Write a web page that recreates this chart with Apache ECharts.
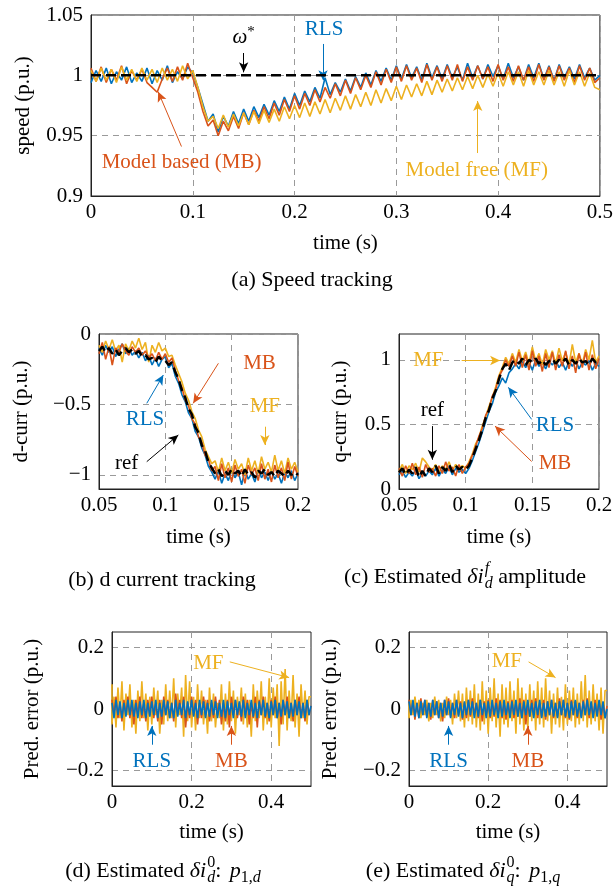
<!DOCTYPE html>
<html><head><meta charset="utf-8">
<script src="https://cdn.jsdelivr.net/npm/echarts@6/dist/echarts.min.js"></script>
<style>html,body{margin:0;padding:0;background:#fff}#c{width:616px;height:888px}</style>
</head><body><div id="c"></div><script>
// ---------- DATA ----------
// (a) speed tracking, t = 0 .. 0.5 step 0.005
const A_T0 = 0, A_DT = 0.005;
const A_REF = [[0, 1], [0.5, 1]];
const A_RLS = [
0.994,1.004,0.995,1.006,0.993,1.003,0.996,1.007,0.994,1.002,
0.995,1.006,0.993,1.004,0.996,1.008,0.994,1.003,0.997,1.007,
1.002,0.990,0.976,0.962,0.968,0.953,0.966,0.958,0.970,0.960,
0.972,0.962,0.974,0.965,0.976,0.967,0.979,0.970,0.982,0.972,
0.985,0.975,0.987,0.978,0.990,0.981,0.998,0.984,0.994,0.986,
0.997,0.987,0.999,0.990,1.002,0.992,1.004,0.995,1.006,0.996,
1.008,0.997,1.009,0.998,1.007,0.996,1.010,0.998,1.008,0.997,
1.009,0.998,1.007,0.996,1.010,0.998,1.008,0.997,1.009,0.999,
1.008,0.997,1.010,0.998,1.007,0.996,1.009,0.998,1.010,0.997,
1.008,0.996,1.009,0.998,1.007,0.997,1.009,0.998,1.006,0.996,
1.000];
const A_MB = [
1.006,0.995,1.007,0.994,1.005,0.996,1.008,0.993,1.004,0.996,
1.005,0.994,0.990,0.986,0.997,1.006,0.995,1.007,0.996,1.010,
0.998,0.986,0.970,0.958,0.963,0.950,0.962,0.954,0.966,0.956,
0.969,0.959,0.971,0.962,0.974,0.964,0.977,0.967,0.980,0.970,
0.983,0.972,0.985,0.975,0.988,0.978,0.990,0.981,0.993,0.983,
0.996,0.985,0.998,0.988,1.000,0.990,1.003,0.992,1.005,0.994,
1.007,0.995,1.008,0.996,1.006,0.994,1.009,0.996,1.007,0.995,
1.008,0.996,1.009,0.995,1.007,0.996,1.008,0.997,1.007,0.995,
1.009,0.996,1.007,0.995,1.008,0.996,1.007,0.995,1.009,0.996,
1.007,0.995,1.008,0.996,1.006,0.994,1.008,0.996,1.006,0.994,
0.998];
const A_MF = [
1.004,0.995,1.006,0.996,1.005,0.994,1.007,0.996,1.005,0.995,
1.006,0.996,1.005,0.994,1.006,0.996,1.005,0.995,1.008,0.997,
1.004,0.990,0.974,0.962,0.966,0.956,0.967,0.957,0.968,0.958,
0.969,0.959,0.970,0.960,0.971,0.961,0.972,0.962,0.974,0.964,
0.975,0.965,0.977,0.966,0.978,0.968,0.980,0.969,0.981,0.971,
0.983,0.972,0.984,0.974,0.986,0.975,0.988,0.977,0.989,0.979,
0.991,0.980,0.992,0.982,0.993,0.983,0.995,0.984,0.996,0.986,
0.997,0.987,0.998,0.988,0.999,0.989,1.000,0.990,1.001,0.991,
1.002,0.991,1.003,0.992,1.003,0.991,1.004,0.992,1.003,0.992,
1.004,0.992,1.003,0.991,1.004,0.992,1.003,0.991,1.002,0.990,
0.988];

// (b) d current & (c) q current, t = 0.05 .. 0.2 step 0.0025
const BC_T0 = 0.05, BC_DT = 0.0025;
const B_REF = [
-0.12,-0.09,-0.13,-0.10,-0.14,-0.11,-0.15,-0.12,-0.10,-0.13,-0.11,-0.14,-0.12,-0.16,-0.15,-0.18,-0.17,-0.20,-0.16,-0.19,
-0.19,-0.22,-0.20,-0.27,-0.32,-0.40,-0.45,-0.53,-0.57,-0.66,-0.70,-0.79,-0.83,-0.91,-0.95,
-0.99,-0.96,-1.01,-0.97,-1.00,-0.96,-0.99,-0.97,-1.01,-0.96,-1.00,-0.98,-1.02,-0.97,-0.99,-0.96,-1.00,-0.98,-1.01,-0.97,-0.99,-1.01,-0.97,-1.00,-0.98,-1.00];
const B_RLS = [
-0.10,-0.15,-0.08,-0.13,-0.09,-0.16,-0.11,-0.07,-0.14,-0.10,-0.15,-0.12,-0.17,-0.13,-0.19,-0.15,-0.22,-0.17,-0.23,-0.18,
-0.16,-0.24,-0.21,-0.30,-0.35,-0.43,-0.48,-0.56,-0.60,-0.69,-0.73,-0.81,-0.86,-0.94,-0.98,
-1.03,-0.97,-1.06,-0.99,-1.04,-0.97,-1.02,-0.98,-1.07,-0.97,-1.03,-0.99,-1.05,-0.96,-1.02,-0.98,-1.04,-0.97,-1.03,-0.99,-1.06,-0.98,-1.02,-0.97,-1.04,-0.99];
const B_MB = [
-0.14,-0.06,-0.18,-0.09,-0.22,-0.10,-0.13,-0.07,-0.12,-0.15,-0.09,-0.13,-0.10,-0.15,-0.12,-0.17,-0.14,-0.19,-0.13,-0.18,
-0.14,-0.20,-0.17,-0.26,-0.33,-0.38,-0.47,-0.51,-0.60,-0.64,-0.73,-0.77,-0.86,-0.89,-0.97,
-0.94,-1.04,-0.92,-1.02,-0.95,-1.05,-0.93,-1.01,-0.96,-1.06,-0.93,-1.00,-0.95,-1.04,-0.92,-1.03,-0.96,-1.05,-0.93,-1.02,-0.95,-1.04,-0.91,-1.03,-0.94,-1.01];
const B_MF = [
-0.08,-0.13,-0.05,-0.11,-0.04,-0.12,-0.08,-0.20,-0.07,-0.12,-0.05,-0.10,-0.03,-0.11,-0.06,-0.20,-0.08,-0.13,-0.06,-0.12,
-0.10,-0.16,-0.15,-0.22,-0.28,-0.34,-0.42,-0.47,-0.55,-0.60,-0.68,-0.73,-0.82,-0.87,-0.92,
-0.90,-0.98,-0.88,-0.97,-0.91,-0.99,-0.89,-0.96,-0.92,-1.00,-0.88,-0.97,-0.90,-0.99,-0.87,-0.96,-0.91,-0.98,-0.86,-0.97,-0.90,-0.99,-0.88,-0.96,-0.91,-0.98];

const C_REF = [
0.13,0.16,0.11,0.15,0.12,0.17,0.09,0.14,0.10,0.16,0.13,0.18,0.12,0.17,0.14,0.19,0.13,0.18,0.15,0.17,
0.15,0.18,0.24,0.31,0.38,0.46,0.55,0.61,0.70,0.76,0.85,0.93,0.97,0.92,0.98,
1.00,0.97,1.01,0.96,1.00,0.98,1.01,0.97,1.00,0.96,0.99,1.01,0.97,1.00,0.98,1.01,0.96,1.00,0.97,1.01,0.98,0.99,0.96,1.01,0.98,1.00];
const C_RLS = [
0.11,0.14,0.09,0.13,0.10,0.15,0.08,0.12,0.10,0.14,0.11,0.16,0.10,0.15,0.12,0.17,0.11,0.16,0.13,0.15,
0.12,0.16,0.22,0.29,0.36,0.44,0.52,0.60,0.66,0.75,0.80,0.86,0.82,0.90,0.93,
0.97,0.93,0.99,0.94,0.98,0.92,1.00,0.95,0.98,0.93,0.99,0.96,1.00,0.94,0.98,0.92,0.99,0.95,1.00,0.93,0.98,0.96,0.99,0.92,0.97,0.95];
const C_MB = [
0.16,0.10,0.18,0.12,0.20,0.11,0.17,0.09,0.19,0.13,0.16,0.10,0.18,0.12,0.21,0.14,0.17,0.10,0.19,0.12,
0.17,0.20,0.26,0.33,0.41,0.47,0.57,0.62,0.72,0.77,0.87,0.92,1.00,0.95,1.03,
0.95,1.06,0.94,1.04,0.92,1.07,0.95,1.03,0.91,1.05,0.94,1.06,0.92,1.04,0.95,1.07,0.93,1.03,0.90,1.05,0.94,1.06,0.92,1.04,0.93,1.01];
const C_MF = [
0.14,0.19,0.12,0.18,0.15,0.20,0.13,0.24,0.21,0.17,0.14,0.19,0.13,0.18,0.15,0.21,0.14,0.19,0.16,0.18,
0.16,0.21,0.27,0.35,0.40,0.49,0.56,0.64,0.71,0.79,0.88,0.94,1.02,0.97,1.05,
0.98,1.08,0.99,1.06,0.97,1.10,0.99,1.05,0.96,1.08,1.00,1.07,0.97,1.09,0.99,1.06,0.96,1.12,0.98,1.05,0.97,1.08,1.00,1.15,0.98,1.03];

// (d),(e) prediction error, t = 0 .. 0.5 step 0.005
const DE_T0 = 0, DE_DT = 0.005;
const D_MF = [
0.08,-0.05,0.04,-0.06,0.07,-0.03,0.09,-0.07,0.05,-0.02,
0.08,-0.06,0.03,-0.08,0.06,-0.04,0.09,-0.03,0.05,-0.07,
0.04,-0.05,0.07,-0.02,0.06,-0.08,0.03,-0.05,0.08,-0.04,
0.06,-0.03,0.10,-0.06,0.05,-0.02,0.07,-0.09,0.11,-0.04,
0.09,-0.06,0.04,-0.07,0.08,-0.03,0.06,-0.05,0.03,-0.08,
0.07,-0.04,0.05,-0.06,0.02,-0.03,0.08,-0.07,0.05,-0.05,
0.09,-0.04,0.06,-0.08,0.04,-0.02,0.07,-0.05,0.05,-0.06,
0.03,-0.09,0.08,-0.04,0.06,-0.03,0.09,-0.07,0.04,-0.05,
0.10,-0.06,0.07,-0.03,0.08,-0.12,0.09,-0.05,0.13,-0.07,
0.06,-0.04,0.11,-0.06,0.05,-0.09,0.08,-0.03,0.06,-0.05,
0.04];
const D_MB = [
0.03,-0.02,0.04,-0.03,0.02,-0.04,0.03,-0.02,0.04,-0.03,
0.02,-0.05,0.03,-0.02,0.04,-0.03,0.02,-0.04,0.03,-0.02,
0.04,-0.03,0.02,-0.04,0.03,-0.05,0.04,-0.02,0.03,-0.03,
0.02,-0.04,0.05,-0.02,0.03,-0.03,0.04,-0.06,0.02,-0.03,
0.04,-0.02,0.03,-0.05,0.02,-0.03,0.04,-0.02,0.03,-0.04,
0.02,-0.03,0.04,-0.02,0.03,-0.05,0.02,-0.04,0.03,-0.06,
0.04,-0.02,0.03,-0.03,0.02,-0.04,0.04,-0.02,0.03,-0.05,
0.02,-0.03,0.04,-0.06,0.03,-0.02,0.04,-0.03,0.02,-0.04,
0.03,-0.02,0.04,-0.03,0.02,-0.05,0.03,-0.02,0.04,-0.03,
0.02,-0.04,0.03,-0.02,0.04,-0.03,0.02,-0.04,0.03,-0.02,
0.01];
const D_RLS = [
0.02,-0.03,0.03,-0.02,0.025,-0.03,0.02,-0.025,0.03,-0.02,
0.03,-0.025,0.02,-0.03,0.025,-0.02,0.03,-0.03,0.02,-0.025,
0.025,-0.02,0.03,-0.03,0.02,-0.025,0.03,-0.02,0.025,-0.03,
0.02,-0.03,0.03,-0.025,0.02,-0.02,0.03,-0.03,0.025,-0.02,
0.03,-0.025,0.02,-0.03,0.03,-0.02,0.025,-0.03,0.02,-0.025,
0.03,-0.02,0.025,-0.03,0.02,-0.025,0.03,-0.03,0.025,-0.02,
0.02,-0.03,0.03,-0.02,0.025,-0.025,0.03,-0.03,0.02,-0.02,
0.03,-0.025,0.02,-0.03,0.025,-0.02,0.03,-0.025,0.02,-0.03,
0.025,-0.02,0.03,-0.03,0.02,-0.025,0.03,-0.02,0.025,-0.03,
0.02,-0.025,0.03,-0.02,0.025,-0.03,0.02,-0.03,0.03,-0.02,
0.01];
const E_MF = [
0.02,-0.03,0.03,-0.02,0.04,-0.01,0.03,-0.03,0.02,-0.02,
0.03,-0.04,0.02,-0.03,0.04,-0.02,0.03,-0.04,0.02,-0.03,
0.04,-0.02,0.03,-0.05,0.05,-0.03,0.06,-0.04,0.05,-0.06,
0.07,-0.04,0.06,-0.05,0.08,-0.06,0.05,-0.07,0.09,-0.05,
0.06,-0.08,0.07,-0.04,0.10,-0.06,0.05,-0.09,0.08,-0.05,
0.07,-0.06,0.09,-0.04,0.06,-0.08,0.10,-0.05,0.07,-0.07,
0.05,-0.06,0.08,-0.04,0.06,-0.07,0.09,-0.05,0.07,-0.06,
0.10,-0.04,0.06,-0.08,0.05,-0.05,0.07,-0.06,0.04,-0.07,
0.08,-0.05,0.06,-0.04,0.07,-0.06,0.05,-0.05,0.09,-0.04,
0.11,-0.06,0.06,-0.05,0.08,-0.04,0.05,-0.07,0.07,-0.08,
0.06];
const E_MB = [
0.03,-0.02,0.025,-0.035,0.02,-0.03,0.035,-0.02,0.03,-0.025,
0.02,-0.035,0.03,-0.02,0.025,-0.03,0.02,-0.04,0.03,-0.02,
0.035,-0.025,0.02,-0.03,0.03,-0.02,0.025,-0.035,0.02,-0.03,
0.03,-0.025,0.035,-0.02,0.02,-0.03,0.03,-0.04,0.025,-0.02,
0.03,-0.03,0.02,-0.025,0.035,-0.02,0.03,-0.03,0.02,-0.035,
0.025,-0.02,0.03,-0.03,0.02,-0.025,0.035,-0.03,0.03,-0.05,
0.02,-0.025,0.03,-0.02,0.035,-0.03,0.02,-0.025,0.03,-0.035,
0.025,-0.02,0.03,-0.03,0.02,-0.025,0.035,-0.02,0.03,-0.03,
0.02,-0.035,0.03,-0.02,0.025,-0.03,0.02,-0.025,0.03,-0.02,
0.035,-0.03,0.02,-0.025,0.03,-0.02,0.025,-0.035,0.02,-0.03,
0.01];
const E_RLS = [
0.025,-0.02,0.03,-0.025,0.02,-0.03,0.025,-0.02,0.03,-0.03,
0.02,-0.025,0.03,-0.02,0.025,-0.03,0.02,-0.025,0.03,-0.02,
0.025,-0.03,0.02,-0.02,0.03,-0.025,0.02,-0.03,0.025,-0.02,
0.03,-0.02,0.025,-0.03,0.02,-0.025,0.03,-0.02,0.02,-0.03,
0.025,-0.025,0.03,-0.02,0.02,-0.03,0.025,-0.025,0.03,-0.02,
0.02,-0.03,0.025,-0.02,0.03,-0.025,0.02,-0.03,0.025,-0.02,
0.03,-0.025,0.02,-0.03,0.025,-0.02,0.03,-0.03,0.02,-0.025,
0.025,-0.02,0.03,-0.025,0.02,-0.03,0.025,-0.02,0.03,-0.025,
0.02,-0.03,0.025,-0.02,0.03,-0.025,0.02,-0.03,0.025,-0.02,
0.03,-0.02,0.025,-0.03,0.02,-0.025,0.03,-0.02,0.025,-0.03,
0.0];

// tick values
const A_XTICKS = [0, 0.1, 0.2, 0.3, 0.4, 0.5];
const A_YTICKS = [0.9, 0.95, 1, 1.05];
const BC_XTICKS = [0.05, 0.1, 0.15, 0.2];
const B_YTICKS = [-1, -0.5, 0];
const C_YTICKS = [0, 0.5, 1];
const DE_XTICKS = [0, 0.2, 0.4];
const DE_YTICKS = [-0.2, 0, 0.2];

// ---------- STYLE ----------
const FONT = '"Liberation Serif","Times New Roman",serif';
const COL = {rls: '#0072BD', mb: '#D95319', mf: '#EDB120', ref: '#000000'};
const TICK_FS = 21, NAME_FS = 21, ANN_FS = 21, CAP_FS = 22;

function pairs(t0, dt, arr) { return arr.map((v, i) => [+(t0 + i * dt).toFixed(5), v]); }
const fmt = v => (v < 0 ? '\u2212' : '') + String(Math.abs(v));

const grids = [
  {left: 91, top: 15, width: 510, height: 181},
  {left: 99, top: 334, width: 199, height: 155},
  {left: 399, top: 334, width: 200, height: 155},
  {left: 112, top: 632, width: 199, height: 154},
  {left: 409, top: 632, width: 198, height: 154}
].map(g => Object.assign(g, {show: true, borderColor: '#222', borderWidth: 1, backgroundColor: 'transparent'}));

const splitStyle = {show: true, lineStyle: {color: '#9a9a9a', type: [6, 5], width: 1}};
function mkX(gi, min, max, ticks, name, gap) {
  return {type: 'value', gridIndex: gi, min, max, name, nameLocation: 'middle', nameGap: gap,
    nameTextStyle: {fontFamily: FONT, fontSize: NAME_FS, color: '#000'},
    axisLine: {show: true, onZero: false, lineStyle: {color: '#222', width: 1}},
    axisTick: {show: false, customValues: ticks},
    axisLabel: {customValues: ticks, formatter: fmt, fontFamily: FONT, fontSize: TICK_FS, color: '#000', margin: 6},
    splitLine: splitStyle};
}
function mkY(gi, min, max, ticks, name, gap) {
  return {type: 'value', gridIndex: gi, min, max, name, nameLocation: 'middle', nameGap: gap, nameRotate: 90,
    nameTextStyle: {fontFamily: FONT, fontSize: NAME_FS, color: '#000'},
    axisLine: {show: true, onZero: false, lineStyle: {color: '#222', width: 1}},
    axisTick: {show: false, customValues: ticks},
    axisLabel: {customValues: ticks, formatter: fmt, fontFamily: FONT, fontSize: TICK_FS, color: '#000', margin: 8},
    splitLine: splitStyle};
}

const xAxes = [
  mkX(0, 0, 0.5, A_XTICKS, 'time (s)', 37),
  mkX(1, 0.05, 0.2, BC_XTICKS, 'time (s)', 38),
  mkX(2, 0.05, 0.2, BC_XTICKS, 'time (s)', 38),
  mkX(3, 0, 0.5, DE_XTICKS, 'time (s)', 36),
  mkX(4, 0, 0.5, DE_XTICKS, 'time (s)', 36)
];
const yAxes = [
  mkY(0, 0.9, 1.05, A_YTICKS, 'speed (p.u.)', 57),
  mkY(1, -1.1, 0, B_YTICKS, 'd-curr (p.u.)', 67),
  mkY(2, 0, 1.2, C_YTICKS, 'q-curr (p.u.)', 48),
  mkY(3, -0.25, 0.25, DE_YTICKS, 'Pred. error (p.u.)', 69),
  mkY(4, -0.25, 0.25, DE_YTICKS, 'Pred. error (p.u.)', 68)
];

function line(gi, data, color, opts) {
  return Object.assign({type: 'line', xAxisIndex: gi, yAxisIndex: gi, data, showSymbol: false, symbol: 'none',
    animation: false, silent: true, lineStyle: {color, width: 1.6}, itemStyle: {color}}, opts || {});
}
function refLine(gi, data, w) {
  return line(gi, data, COL.ref, {lineStyle: {color: '#000', width: w, type: [10, 5]}, z: 5});
}

// annotations (data coordinates)
const ANN = [
  {g: 0, texts: [
      {xy: [0.15, 1.031], t: '{w|ω}{s|*}', c: '#000', rich: true},
      {xy: [0.229, 1.0376], t: 'RLS', c: COL.rls},
      {xy: [0.089, 0.928], t: 'Model based (MB)', c: COL.mb},
      {xy: [0.379, 0.9215], t: 'Model free (MF)', c: COL.mf}],
   arrows: [
      {a: [0.15, 1.0185], b: [0.15, 1.0025], c: '#000'},
      {a: [0.228, 1.026], b: [0.228, 0.996], c: COL.rls},
      {a: [0.0889, 0.941], b: [0.066, 0.9864], c: COL.mb},
      {a: [0.380, 0.9356], b: [0.380, 0.9787], c: COL.mf}]},
  {g: 1, texts: [
      {xy: [0.171, -0.206], t: 'MB', c: COL.mb},
      {xy: [0.175, -0.516], t: 'MF', c: COL.mf},
      {xy: [0.0847, -0.61], t: 'RLS', c: COL.rls},
      {xy: [0.0708, -0.918], t: 'ref', c: '#000'}],
   arrows: [
      {a: [0.140, -0.208], b: [0.121, -0.492], c: COL.mb},
      {a: [0.175, -0.658], b: [0.175, -0.788], c: COL.mf},
      {a: [0.086, -0.492], b: [0.0985, -0.291], c: COL.rls},
      {a: [0.086, -0.906], b: [0.1098, -0.717], c: '#000'}]},
  {g: 2, texts: [
      {xy: [0.072, 0.995], t: 'MF', c: COL.mf},
      {xy: [0.075, 0.604], t: 'ref', c: '#000'},
      {xy: [0.167, 0.492], t: 'RLS', c: COL.rls},
      {xy: [0.167, 0.195], t: 'MB', c: COL.mb}],
   arrows: [
      {a: [0.097, 0.995], b: [0.1258, 0.995], c: COL.mf},
      {a: [0.075, 0.487], b: [0.075, 0.227], c: '#000'},
      {a: [0.1495, 0.539], b: [0.132, 0.787], c: COL.rls},
      {a: [0.1495, 0.213], b: [0.122, 0.487], c: COL.mb}]},
  {g: 3, texts: [
      {xy: [0.242, 0.147], t: 'MF', c: COL.mf},
      {xy: [0.1, -0.17], t: 'RLS', c: COL.rls},
      {xy: [0.3, -0.17], t: 'MB', c: COL.mb}],
   arrows: [
      {a: [0.296, 0.153], b: [0.445, 0.102], c: COL.mf},
      {a: [0.1, -0.116], b: [0.1, -0.055], c: COL.rls},
      {a: [0.3, -0.116], b: [0.3, -0.055], c: COL.mb}]},
  {g: 4, texts: [
      {xy: [0.247, 0.153], t: 'MF', c: COL.mf},
      {xy: [0.1, -0.17], t: 'RLS', c: COL.rls},
      {xy: [0.3, -0.17], t: 'MB', c: COL.mb}],
   arrows: [
      {a: [0.302, 0.153], b: [0.370, 0.102], c: COL.mf},
      {a: [0.1, -0.116], b: [0.1, -0.055], c: COL.rls},
      {a: [0.3, -0.116], b: [0.3, -0.055], c: COL.mb}]}
];

function annSeries(an) {
  return {type: 'line', xAxisIndex: an.g, yAxisIndex: an.g, data: [], animation: false, silent: true, z: 20,
    markLine: {silent: true, animation: false, symbol: ['none', 'arrow'], symbolSize: 9, label: {show: false},
      emphasis: {disabled: true}, precision: 6,
      data: an.arrows.map(ar => [
        {coord: ar.a, symbol: 'none', lineStyle: {color: ar.c, width: 1, type: 'solid'}, itemStyle: {color: ar.c}},
        {coord: ar.b, symbol: 'arrow', symbolSize: [7, 10], itemStyle: {color: ar.c}}])},
    markPoint: {silent: true, animation: false, symbol: 'circle', symbolSize: 0,
      data: an.texts.map(tx => ({coord: tx.xy, itemStyle: {color: 'transparent'},
        label: {show: true, position: 'inside', formatter: tx.t, color: tx.c, fontFamily: FONT, fontSize: ANN_FS,
          rich: tx.rich ? {w: {fontFamily: FONT, fontSize: ANN_FS, fontStyle: 'italic', color: tx.c},
                          s: {fontFamily: FONT, fontSize: 15, color: tx.c, padding: [0, 0, 12, 0]}} : undefined}}))}
  };
}

const series = [
  line(0, pairs(A_T0, A_DT, A_RLS), COL.rls),
  line(0, pairs(A_T0, A_DT, A_MB), COL.mb),
  line(0, pairs(A_T0, A_DT, A_MF), COL.mf),
  refLine(0, A_REF, 2.5),
  line(1, pairs(BC_T0, BC_DT, B_RLS), COL.rls),
  line(1, pairs(BC_T0, BC_DT, B_MF), COL.mf),
  line(1, pairs(BC_T0, BC_DT, B_MB), COL.mb),
  refLine(1, pairs(BC_T0, BC_DT, B_REF), 2.5),
  line(2, pairs(BC_T0, BC_DT, C_RLS), COL.rls),
  line(2, pairs(BC_T0, BC_DT, C_MF), COL.mf),
  line(2, pairs(BC_T0, BC_DT, C_MB), COL.mb),
  refLine(2, pairs(BC_T0, BC_DT, C_REF), 2.5),
  line(3, pairs(DE_T0, DE_DT, D_MF), COL.mf, {step: 'start'}),
  line(3, pairs(DE_T0, DE_DT, D_MB), COL.mb),
  line(3, pairs(DE_T0, DE_DT, D_RLS), COL.rls),
  line(4, pairs(DE_T0, DE_DT, E_MF), COL.mf, {step: 'start'}),
  line(4, pairs(DE_T0, DE_DT, E_MB), COL.mb),
  line(4, pairs(DE_T0, DE_DT, E_RLS), COL.rls)
].concat(ANN.map(annSeries));

// ---------- captions with sub/superscripts ----------
const mctx = document.createElement('canvas').getContext('2d');
function tw(t, size, it) { mctx.font = (it ? 'italic ' : '') + size + 'px ' + FONT; return mctx.measureText(t).width; }
function caption(cx, cy, parts) {
  const S = CAP_FS, s = Math.round(CAP_FS * 0.72);
  let w = 0; const items = [];
  parts.forEach(p => {
    if (p.sup || p.sub) {
      let mw = 0;
      [[p.sup, -0.36 * S], [p.sub, 0.3 * S]].forEach(([seg, dy]) => {
        if (!seg) return;
        let x = 0;
        seg.forEach(g => { items.push({t: g.t, it: g.it, size: s, x: w + x, dy}); x += tw(g.t, s, g.it); });
        mw = Math.max(mw, x);
      });
      w += mw;
    } else {
      items.push({t: p.t, it: p.it, size: S, x: w, dy: 0});
      w += tw(p.t, S, p.it) + (p.gap || 0);
    }
  });
  const x0 = cx - w / 2;
  return items.map(it => ({type: 'text', x: x0 + it.x, y: cy + it.dy, silent: true,
    style: {text: it.t, fontSize: it.size, fontFamily: FONT, fontStyle: it.it ? 'italic' : 'normal', fill: '#000',
      align: 'left', verticalAlign: 'middle'}}));
}
const CAPTIONS = [
  {c: [312, 280], parts: [{t: '(a) Speed tracking'}]},
  {c: [162, 580], parts: [{t: '(b) d current tracking'}]},
  {c: [465, 577], parts: [{t: '(c) Estimated '}, {t: 'δi', it: true, gap: 1}, {sup: [{t: 'f', it: true}], sub: [{t: 'd', it: true}]}, {t: ' amplitude'}]},
  {c: [163, 871], parts: [{t: '(d) Estimated '}, {t: 'δi', it: true, gap: 1}, {sup: [{t: '0'}], sub: [{t: 'd', it: true}]}, {t: ': ', gap: 3}, {t: 'p', it: true}, {sub: [{t: '1,'}, {t: 'd', it: true}]}]},
  {c: [463, 871], parts: [{t: '(e) Estimated '}, {t: 'δi', it: true, gap: 1}, {sup: [{t: '0'}], sub: [{t: 'q', it: true}]}, {t: ': ', gap: 3}, {t: 'p', it: true}, {sub: [{t: '1,'}, {t: 'q', it: true}]}]}
];
const graphic = [].concat(...CAPTIONS.map(c => caption(c.c[0], c.c[1], c.parts)));

const chart = echarts.init(document.getElementById('c'), null, {renderer: 'canvas'});
chart.setOption({
  animation: false,
  backgroundColor: '#fff',
  grid: grids,
  xAxis: xAxes,
  yAxis: yAxes,
  series,
  graphic
});
</script></body></html>
